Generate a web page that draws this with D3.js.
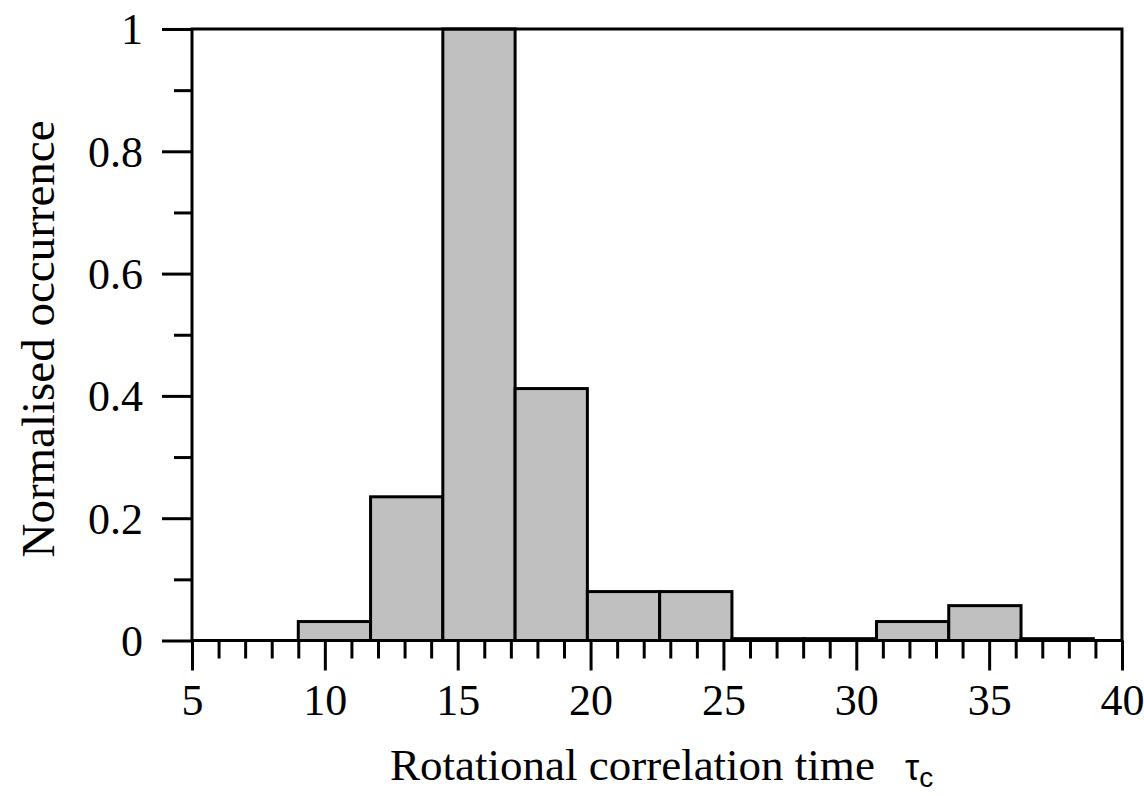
<!DOCTYPE html>
<html>
<head>
<meta charset="utf-8">
<script src="https://cdn.jsdelivr.net/npm/d3@7"></script>
<style>
  body { margin: 0; background: #fff; }
  text { font-family: "Liberation Serif", "Times New Roman", serif; fill: #000; }
</style>
</head>
<body>
<div id="chart"></div>
<script>

// Histogram bin edges (tau_c) and normalised heights
var binEdges = [9.0, 11.72, 14.44, 17.16, 19.88, 22.6, 25.32, 28.04, 30.76, 33.48, 36.2, 38.92];
var occurrence = [0.031, 0.235, 1.0, 0.412, 0.080, 0.080, 0.003, 0.003, 0.031, 0.057, 0.003];

var xMajorTicks = [5, 10, 15, 20, 25, 30, 35, 40];
var yMajorTicks = [0, 0.2, 0.4, 0.6, 0.8, 1];
var yTickLabels = ['0', '0.2', '0.4', '0.6', '0.8', '1'];

var width = 1144;
var height = 796;
var plotLeft = 192, plotRight = 1122, plotTop = 29, plotBottom = 640.5;
var majorLen = 30, minorLen = 18;
var lw = 3;

var x = d3.scaleLinear().domain([5, 40]).range([plotLeft, plotRight]);
var y = d3.scaleLinear().domain([0, 1]).range([plotBottom, plotTop]);

var bins = occurrence.map((v, i) => ({x0: binEdges[i], x1: binEdges[i + 1], value: v}));

var svg = d3.select('#chart')
    .append('svg')
    .attr('width', width)
    .attr('height', height);

// Bars
svg.append('g')
    .selectAll('rect')
    .data(bins)
    .enter()
    .append('rect')
    .attr('x', d => x(d.x0))
    .attr('y', d => y(d.value))
    .attr('width', d => x(d.x1) - x(d.x0))
    .attr('height', d => y(0) - y(d.value))
    .attr('fill', '#c0c0c0')
    .attr('stroke', '#000')
    .attr('stroke-width', lw);

// Minor ticks
var xMinor = d3.range(5, 41, 1).filter(v => v % 5 !== 0);
var yMinor = d3.range(1, 10).map(v => v / 10).filter((v, i) => i % 2 === 0);

var xAxisMinor = svg.append('g')
    .attr('transform', 'translate(0,' + plotBottom + ')')
    .call(d3.axisBottom(x).tickValues(xMinor).tickSize(minorLen).tickSizeOuter(0).tickFormat(''));
var yAxisMinor = svg.append('g')
    .attr('transform', 'translate(' + plotLeft + ',0)')
    .call(d3.axisLeft(y).tickValues(yMinor).tickSize(minorLen).tickSizeOuter(0).tickFormat(''));

// Major ticks with labels
var xAxis = svg.append('g')
    .attr('transform', 'translate(0,' + plotBottom + ')')
    .call(d3.axisBottom(x).tickValues(xMajorTicks).tickSize(majorLen).tickSizeOuter(0).tickPadding(13));
var yAxis = svg.append('g')
    .attr('transform', 'translate(' + plotLeft + ',0)')
    .call(d3.axisLeft(y).tickValues(yMajorTicks).tickSize(majorLen).tickSizeOuter(0).tickPadding(19)
        .tickFormat((d, i) => yTickLabels[i]));

[xAxisMinor, yAxisMinor, xAxis, yAxis].forEach(function (g) {
    g.select('.domain').remove();
    g.selectAll('line').attr('stroke', '#000').attr('stroke-width', lw);
    g.selectAll('text')
        .style('font-family', '"Liberation Serif", "Times New Roman", serif')
        .style('font-size', '44px')
        .attr('fill', '#000');
});
yAxis.selectAll('text').attr('dy', '0.34em');

// Frame
svg.append('path')
    .attr('d', 'M' + plotLeft + ',' + plotBottom + 'V' + plotTop + 'H' + plotRight + 'V' + plotBottom + 'H' + plotLeft)
    .attr('fill', 'none')
    .attr('stroke', '#000')
    .attr('stroke-width', lw);

// Axis titles
svg.append('text')
    .attr('transform', 'translate(54,' + 339 + ') rotate(-90)')
    .attr('text-anchor', 'middle')
    .style('font-size', '47px')
    .text('Normalised occurrence');

var xTitle = svg.append('text')
    .attr('x', 390)
    .attr('y', 780)
    .attr('text-anchor', 'start')
    .style('font-size', '45px');
xTitle.append('tspan').text('Rotational correlation time');
xTitle.append('tspan')
    .attr('x', 905)
    .style('font-family', '"Liberation Sans", Arial, sans-serif')
    .style('font-size', '36px')
    .text('τ');
xTitle.append('tspan')
    .style('font-family', '"Liberation Sans", Arial, sans-serif')
    .style('font-size', '28px')
    .attr('dy', 7)
    .text('c');

</script>
</body>
</html>
